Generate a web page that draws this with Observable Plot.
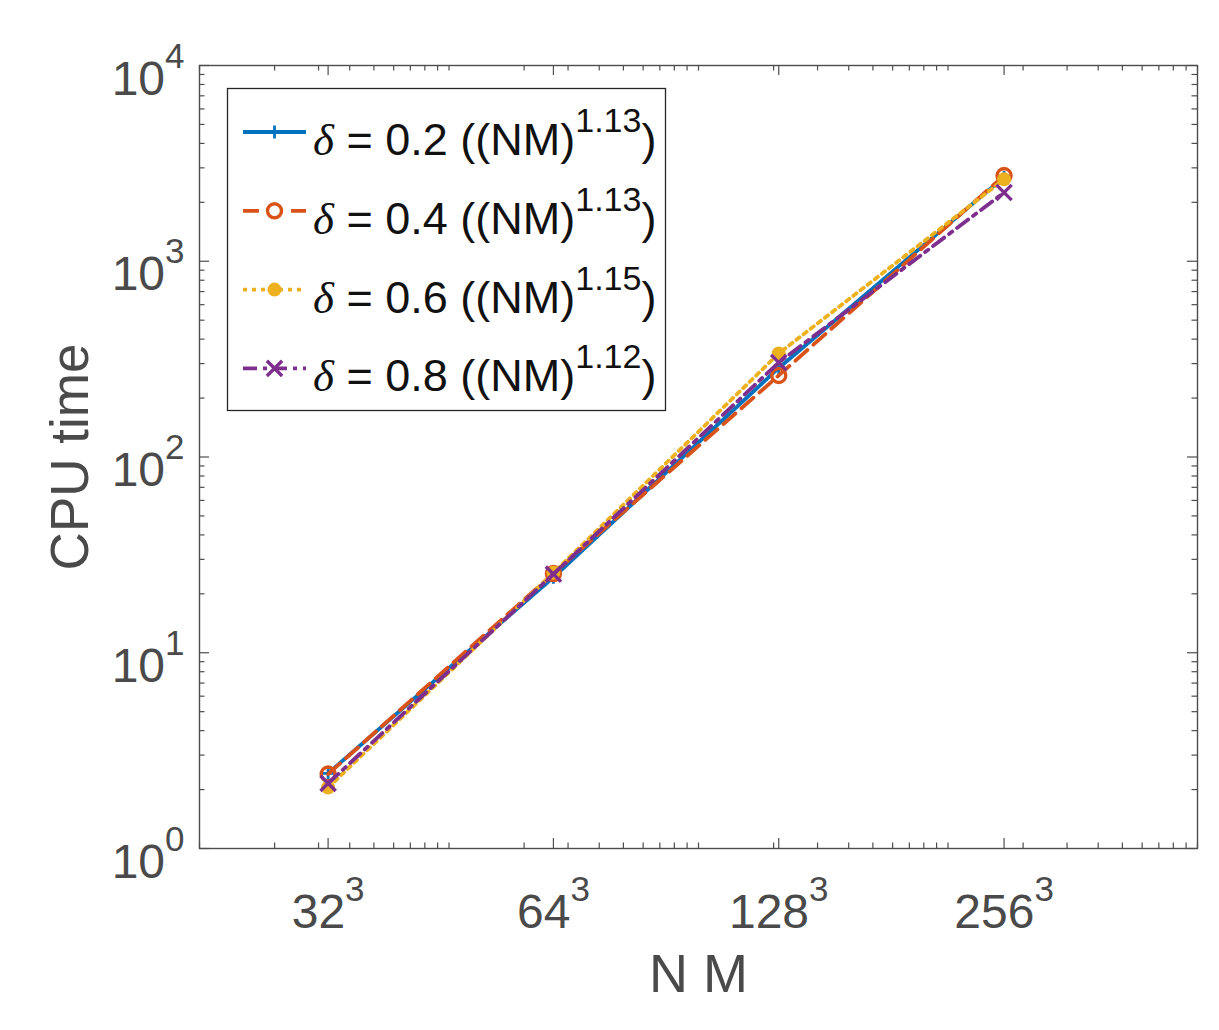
<!DOCTYPE html>
<html>
<head>
<meta charset="utf-8">
<script src="https://cdn.jsdelivr.net/npm/d3@7"></script>
<script src="https://cdn.jsdelivr.net/npm/@observablehq/plot@0.6"></script>
<style>
  html, body { margin: 0; padding: 0; background: #fff; }
  #chart { width: 1219px; height: 1030px; }
</style>
</head>
<body>
<div id="chart"></div>
<script>
// ---- data -------------------------------------------------------------
const nmValues = [32768, 262144, 2097152, 16777216];      // 32^3 .. 256^3
const xTickLabels = ["32^3", "64^3", "128^3", "256^3"];
const yTickValues = [1, 10, 100, 1000, 10000];
const yTickLabels = ["10^0", "10^1", "10^2", "10^3", "10^4"];

const deltas = ["0.2", "0.4", "0.6", "0.8"];
const rates  = ["1.13", "1.13", "1.15", "1.12"];

const cpuDelta02 = [2.42, 24.3, 285, 2690];
const cpuDelta04 = [2.40, 25.4, 261, 2740];
const cpuDelta06 = [2.05, 25.6, 338, 2620];
const cpuDelta08 = [2.15, 25.2, 304, 2245];

// minor tick positions on the log axes
const xMinorTicks = [];
for (let k = 4; k <= 7; ++k) for (let m = 1; m <= 9; ++m) xMinorTicks.push(m * 10 ** k);
xMinorTicks.push(1e8);
const yMinorTicks = [];
for (let k = 0; k <= 3; ++k) for (let m = 2; m <= 9; ++m) yMinorTicks.push(m * 10 ** k);

// ---- styling ----------------------------------------------------------
const W = 1219, H = 1030;
const M = {top: 65, right: 22, bottom: 182, left: 199};
const FW = W - M.left - M.right;   // frame width
const FH = H - M.top - M.bottom;   // frame height
const axisColor = "#4d4d4d";
const textColor = "#4a4a4a";
const sans = "'Liberation Sans', Arial, Helvetica, sans-serif";
const majorLen = 10, minorLen = 5.5;
const lineWidth = 3.8;

const seriesStyle = [
  {color: "#0072BD", dash: null,          symbol: "plus",   r: 4.2, fill: "none", sw: 2.8},
  {color: "#D95319", dash: "16,8",        symbol: "circle", r: 7,   fill: "none", sw: 3.4},
  {color: "#EDB120", dash: "4,5",         symbol: "circle", r: 7,   fill: "#EDB120", sw: 0},
  {color: "#7E2F8E", dash: "14,6,4,6",    symbol: "times",  r: 7,   fill: "none", sw: 3.4}
];
const seriesValues = [cpuDelta02, cpuDelta04, cpuDelta06, cpuDelta08];

const rows = seriesValues.map((vals, s) =>
  vals.map((v, i) => ({series: s, nm: nmValues[i], cpu: v})));

// ---- tick marks (inward, on all four sides) ---------------------------
function edgeTicks() {
  const c = {stroke: axisColor, strokeWidth: 1.2};
  return [
    Plot.tickX(xMinorTicks, {x: d => d, insetTop: FH - minorLen, ...c}),
    Plot.tickX(xMinorTicks, {x: d => d, insetBottom: FH - minorLen, ...c}),
    Plot.tickX(nmValues, {x: d => d, insetTop: FH - majorLen, ...c}),
    Plot.tickX(nmValues, {x: d => d, insetBottom: FH - majorLen, ...c}),
    Plot.tickY(yMinorTicks, {y: d => d, insetRight: FW - minorLen, ...c}),
    Plot.tickY(yMinorTicks, {y: d => d, insetLeft: FW - minorLen, ...c}),
    Plot.tickY(yTickValues, {y: d => d, insetRight: FW - majorLen, ...c}),
    Plot.tickY(yTickValues, {y: d => d, insetLeft: FW - majorLen, ...c})
  ];
}

// ---- series ------------------------------------------------------------
function seriesMarks() {
  return rows.flatMap((data, s) => {
    const st = seriesStyle[s];
    const marker = st.symbol === "circle" && st.fill !== "none"
      ? Plot.dot(data, {x: "nm", y: "cpu", r: st.r, fill: st.fill, stroke: null})
      : Plot.dot(data, {x: "nm", y: "cpu", r: st.r, symbol: st.symbol, fill: "none",
                        stroke: st.color, strokeWidth: st.sw});
    return [
      Plot.line(data, {x: "nm", y: "cpu", stroke: st.color, strokeWidth: lineWidth,
                       strokeDasharray: st.dash ?? undefined, strokeLinejoin: "round"}),
      marker
    ];
  });
}

const chart = Plot.plot({
  width: W,
  height: H,
  marginTop: M.top,
  marginRight: M.right,
  marginBottom: M.bottom,
  marginLeft: M.left,
  style: {fontFamily: sans, color: textColor, background: "#fff", overflow: "visible"},
  x: {type: "log", domain: [1e4, 1e8], axis: null},
  y: {type: "log", domain: [1, 1e4], axis: null},
  marks: [
    ...edgeTicks(),
    ...seriesMarks(),
    Plot.frame({stroke: axisColor, strokeWidth: 1.4}),
    // tick labels
    Plot.text(nmValues, {x: d => d, text: (d, i) => xTickLabels[i], frameAnchor: "bottom",
      dy: 79, lineAnchor: "bottom", textAnchor: "middle", fontSize: 48}),
    Plot.text(yTickValues, {y: d => d, text: (d, i) => yTickLabels[i], frameAnchor: "left",
      dx: -15, dy: 29, lineAnchor: "bottom", textAnchor: "end", fontSize: 48}),
    // axis titles
    Plot.text(["N M"], {frameAnchor: "bottom", dy: 143, lineAnchor: "bottom", textAnchor: "middle", fontSize: 54}),
    Plot.text(["CPU time"], {frameAnchor: "left", dx: -128, rotate: -90, lineAnchor: "middle",
      textAnchor: "middle", fontSize: 53})
  ]
});

// raise the exponent part of "a^b" tick labels
d3.select(chart).selectAll("text").each(function () {
  if (!this.textContent.includes("^")) return;
  const [base, exp] = this.textContent.split("^");
  const t = d3.select(this);
  t.text(null);
  t.append("tspan").text(base);
  t.append("tspan").attr("font-size", 35).attr("dy", -27).text(exp);
});

// ---- legend -----------------------------------------------------------
const legend = d3.select(chart).append("g").attr("aria-label", "legend")
  .attr("text-anchor", "start");
legend.append("rect")
  .attr("x", 227.5).attr("y", 88.5).attr("width", 438).attr("height", 322)
  .attr("fill", "#fff").attr("stroke", "#262626").attr("stroke-width", 1.3);

const rowY0 = 132, rowStep = 78.8;
deltas.forEach((dlt, s) => {
  const st = seriesStyle[s];
  const cy = rowY0 + s * rowStep;
  legend.append("line")
    .attr("x1", 243).attr("x2", 306).attr("y1", cy).attr("y2", cy)
    .attr("stroke", st.color).attr("stroke-width", lineWidth)
    .attr("stroke-dasharray", st.dash);
  const sym = st.symbol === "plus" ? d3.symbolPlus : st.symbol === "times" ? d3.symbolTimes : d3.symbolCircle;
  legend.append("path")
    .attr("transform", `translate(274.5,${cy})`)
    .attr("d", d3.symbol(sym, Math.PI * st.r * st.r)())
    .attr("fill", st.fill === "none" ? (st.symbol === "circle" ? "#fff" : "none") : st.fill)
    .attr("stroke", st.sw ? st.color : "none")
    .attr("stroke-width", st.sw);
  const t = legend.append("text")
    .attr("x", 313).attr("y", cy + 23).attr("text-anchor", "start")
    .attr("fill", "#111").attr("font-size", 45).attr("font-family", sans);
  t.append("tspan").attr("font-family", "'Liberation Serif', 'DejaVu Serif', serif")
    .attr("font-style", "italic").text("δ");
  t.append("tspan").text(` = ${dlt} ((NM)`);
  t.append("tspan").attr("font-size", 34).attr("dy", -23).text(rates[s]);
  t.append("tspan").attr("dy", 23).text(")");
});

document.getElementById("chart").appendChild(chart);
</script>
</body>
</html>
